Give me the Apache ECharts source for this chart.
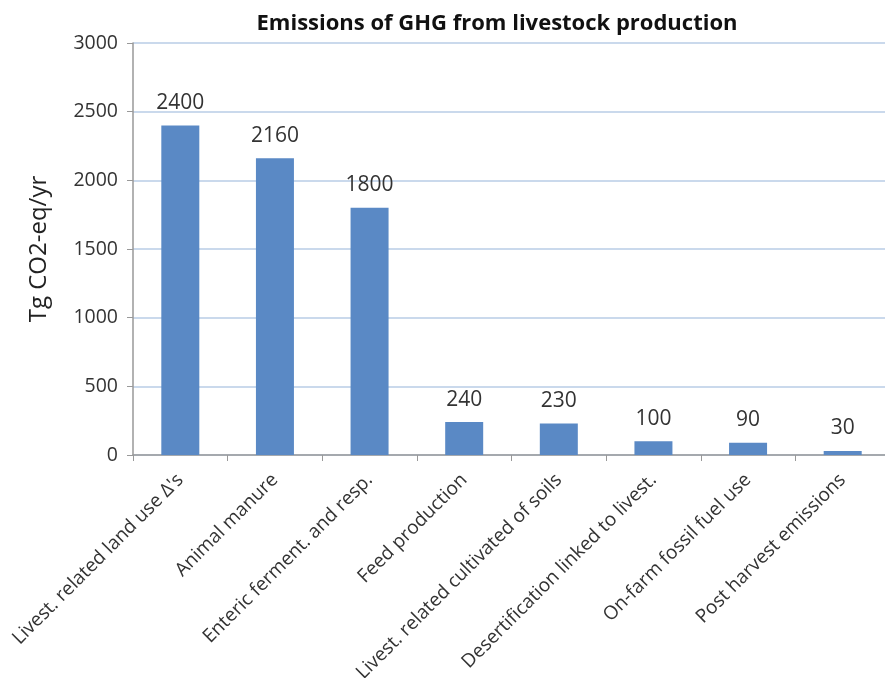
<!DOCTYPE html>
<html><head><meta charset="utf-8">
<script src="https://cdn.jsdelivr.net/npm/echarts@6/dist/echarts.min.js"></script>
<style>html,body{margin:0;padding:0;background:#fff}#c{width:885px;height:678px}</style>
</head><body><div id="c"></div>
<script>
const categories = ["Livest. related land use \u0394's","Animal manure","Enteric ferment. and resp.","Feed production","Livest. related cultivated of soils","Desertification linked to livest.","On-farm fossil fuel use","Post harvest emissions"];
const values = [2400,2160,1800,240,230,100,90,30];
const titleText = "Emissions of GHG from livestock production";
const yAxisName = "Tg CO2-eq/yr";
const font = "Open Sans";
const chart = echarts.init(document.getElementById('c'));
chart.setOption({
  animation:false,
  title:{text:titleText,left:492,top:8,textAlign:'center',textStyle:{fontFamily:font,fontSize:22,fontWeight:'bold',color:'#111'}},
  grid:{left:133,top:43,width:757,height:412,containLabel:false,outerBoundsMode:'none'},
  xAxis:{type:'category',data:categories,
    axisLine:{lineStyle:{color:'#999',width:1.5}},
    axisTick:{show:true,length:6,lineStyle:{color:'#999'}},
    axisLabel:{rotate:45,interval:0,margin:22,fontFamily:font,fontSize:19,color:'#333'}},
  yAxis:{type:'value',min:0,max:3000,interval:500,name:yAxisName,nameLocation:'middle',nameGap:82,
    nameTextStyle:{fontFamily:font,fontSize:24,color:'#222'},
    axisLine:{show:true,lineStyle:{color:'#999',width:1.5}},
    axisTick:{show:true,length:6,lineStyle:{color:'#999'}},
    axisLabel:{margin:15,fontFamily:font,fontSize:19.5,color:'#333',formatter:function(v){return String(v);}},
    splitLine:{lineStyle:{color:'#b9cde6',width:1.5}}},
  series:[{type:'bar',data:values,barWidth:38,itemStyle:{color:'#5a89c5'},
    label:{show:true,position:'top',distance:12,fontFamily:font,fontSize:21,color:'#333'}}]
});
</script></body></html>
